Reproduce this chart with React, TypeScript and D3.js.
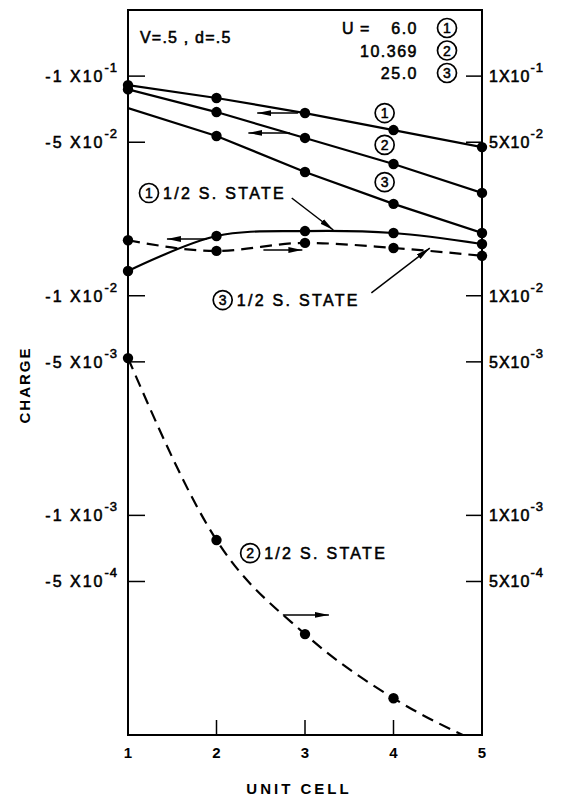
import React from "react";
import * as d3 from "d3";

// ---- data ----
const unitCells = [1, 2, 3, 4, 5];
const chargeU1 = [0.091, 0.0795, 0.0679, 0.0568, 0.0475]; // U = 6.0 (right axis)
const chargeU2 = [0.087, 0.0686, 0.0523, 0.0398, 0.0294]; // U = 10.369 (left axis)
const chargeU3 = [0.0716, 0.0534, 0.0366, 0.0262, 0.0193]; // U = 25.0 (left axis)
const markedU3 = [false, true, true, true, true];
const halfState1 = [0.01296, 0.0187, 0.0197, 0.0193, 0.0172];
const halfState3 = [0.0179, 0.016, 0.0174, 0.0165, 0.0152];
const halfState2 = [5.2e-3, 7.72e-4, 2.88e-4, 1.47e-4, 9.1e-5];

const leftTicks = [1e-1, 5e-2, 1e-2, 5e-3, 1e-3, 5e-4];
const leftMantissa = ["-1", "-5", "-1", "-5", "-1", "-5"];
const rightMantissa = ["1", "5", "1", "5", "1", "5"];
const tickExponent = ["-1", "-2", "-2", "-3", "-3", "-4"];
const xTicks = [1, 2, 3, 4, 5];
const legendU = ["6.0", "10.369", "25.0"];
const legendIds = ["1", "2", "3"];

const W = 561;
const H = 798;
const FONT = "'Liberation Sans', Arial, sans-serif";
const SW = 0.55;

export default function App() {
  const x = d3.scaleLinear().domain([1, 5]).range([128, 482]);
  const y = d3.scaleLog().domain([1e-4, 0.2]).range([735, 10]);
  const [x0, x1] = x.range();
  const [yB, yT] = y.range();

  const straight = d3
    .line<number>()
    .x((_, i) => x(unitCells[i]))
    .y((d) => y(d));
  const smooth = d3
    .line<number>()
    .x((_, i) => x(unitCells[i]))
    .y((d) => y(d))
    .curve(d3.curveMonotoneX);
  const catmull = d3
    .line<number>()
    .x((_, i) => x(unitCells[i]))
    .y((d) => y(d))
    .curve(d3.curveCatmullRom.alpha(0.5));

  const dots = (vals: number[], mask?: boolean[]) =>
    vals.map((v, i) =>
      (mask ? mask[i] : true) && v >= y.domain()[0] ? (
        <circle key={i} cx={x(unitCells[i])} cy={y(v)} r={5.2} fill="#000" />
      ) : null
    );

  const circled = (cx: number, cy: number, label: string, key?: string) => (
    <g key={key}>
      <circle cx={cx} cy={cy} r={9.5} fill="none" stroke="#000" strokeWidth={1.7} />
      <text
        x={cx}
        y={cy + 5}
        textAnchor="middle"
        fontSize={14}
        fontFamily={FONT}
        fill="#000"
        stroke="#000"
        strokeWidth={0.5}
      >
        {label}
      </text>
    </g>
  );

  const arrow = (ax1: number, ay1: number, ax2: number, ay2: number, key: string) => (
    <line
      key={key}
      x1={x(ax1)}
      y1={y(ay1)}
      x2={x(ax2)}
      y2={y(ay2)}
      stroke="#000"
      strokeWidth={1.5}
      markerEnd="url(#ah)"
    />
  );

  const stateLabel = (cxv: number, cyv: number, id: string, key: string) => {
    const cx = x(cxv);
    const cy = y(cyv);
    return (
      <g key={key}>
        {circled(cx, cy, id)}
        <text
          x={cx + 14}
          y={cy + 6}
          fontSize={16}
          letterSpacing={2.3}
          fontFamily={FONT}
          fill="#000"
          stroke="#000"
          strokeWidth={SW}
        >
          1/2 S. STATE
        </text>
      </g>
    );
  };

  return (
    <svg
      width={W}
      height={H}
      style={{ position: "absolute", left: 0, top: 0, background: "#fff" }}
      fontFamily={FONT}
    >
      <defs>
        <clipPath id="plot">
          <rect x={x0} y={yT} width={x1 - x0} height={yB - yT} />
        </clipPath>
        <marker
          id="ah"
          viewBox="0 0 12 5"
          refX={12}
          refY={2.5}
          markerWidth={14}
          markerHeight={6}
          markerUnits="userSpaceOnUse"
          orient="auto"
        >
          <path d="M0,0 L12,2.5 L0,5 Z" fill="#000" />
        </marker>
      </defs>
      <rect x={0} y={0} width={W} height={H} fill="#fff" />

      {/* frame */}
      <rect x={x0} y={yT} width={x1 - x0} height={yB - yT} fill="none" stroke="#000" strokeWidth={2} />

      {/* left ticks */}
      {leftTicks.map((t, i) => (
        <g key={"lt" + i}>
          <line x1={x0} x2={x0 + 17} y1={y(t)} y2={y(t)} stroke="#000" strokeWidth={1.5} />
          <text
            x={118}
            y={y(t) + 6}
            textAnchor="end"
            fontSize={16}
            letterSpacing={2}
            fill="#000"
            stroke="#000"
            strokeWidth={SW}
          >
            {leftMantissa[i] + " X10"}
            <tspan dy={-10} fontSize={13} letterSpacing={1}>
              {tickExponent[i]}
            </tspan>
          </text>
        </g>
      ))}

      {/* right ticks */}
      {leftTicks.map((t, i) => (
        <g key={"rt" + i}>
          <line x1={x1 - 16} x2={x1} y1={y(t)} y2={y(t)} stroke="#000" strokeWidth={1.5} />
          <text
            x={489}
            y={y(t) + 6}
            fontSize={16}
            letterSpacing={1}
            fill="#000"
            stroke="#000"
            strokeWidth={SW}
          >
            {rightMantissa[i] + "X10"}
            <tspan dy={-10} fontSize={13} letterSpacing={1}>
              {tickExponent[i]}
            </tspan>
          </text>
        </g>
      ))}

      {/* x ticks */}
      {xTicks.map((t) => (
        <g key={"xt" + t}>
          {t > 1 && t < 5 ? (
            <line x1={x(t)} x2={x(t)} y1={yB} y2={yB - 15} stroke="#000" strokeWidth={1.5} />
          ) : null}
          <text
            x={x(t)}
            y={758}
            textAnchor="middle"
            fontSize={15}
            fontWeight="bold"
            fill="#000"
          >
            {t}
          </text>
        </g>
      ))}

      {/* axis titles */}
      <text
        x={299}
        y={794}
        textAnchor="middle"
        fontSize={15}
        fontWeight="bold"
        letterSpacing={3}
        fill="#000"
      >
        UNIT CELL
      </text>
      <text
        transform="translate(30,385) rotate(-90)"
        textAnchor="middle"
        fontSize={15}
        fontWeight="bold"
        letterSpacing={2}
        fill="#000"
      >
        CHARGE
      </text>

      {/* parameters */}
      <text x={140} y={43} fontSize={16} letterSpacing={1.2} fill="#000" stroke="#000" strokeWidth={SW}>
        V=.5 , d=.5
      </text>

      {/* legend */}
      <text x={342} y={34} fontSize={16} letterSpacing={1} fill="#000" stroke="#000" strokeWidth={SW}>
        U =
      </text>
      {legendU.map((u, i) => (
        <g key={"lg" + i}>
          <text
            x={418}
            y={34 + i * 22.5}
            textAnchor="end"
            fontSize={16}
            letterSpacing={1.5}
            fill="#000"
            stroke="#000"
            strokeWidth={SW}
          >
            {u}
          </text>
          {circled(447, 28 + i * 22.5, legendIds[i])}
        </g>
      ))}

      {/* curves */}
      <g clipPath="url(#plot)" fill="none" stroke="#000">
        <path d={straight(chargeU1) || ""} strokeWidth={2.2} />
        <path d={straight(chargeU2) || ""} strokeWidth={2.2} />
        <path d={straight(chargeU3) || ""} strokeWidth={2.2} />
        <path d={catmull(halfState1) || ""} strokeWidth={2.2} />
        <path d={smooth(halfState3) || ""} strokeWidth={2.2} strokeDasharray="12 7" />
        <path d={smooth(halfState2) || ""} strokeWidth={2.2} strokeDasharray="12 7" />
      </g>

      {/* markers */}
      {dots(chargeU1)}
      {dots(chargeU2)}
      {dots(chargeU3, markedU3)}
      {dots(halfState1)}
      {dots(halfState3)}
      {dots(halfState2)}

      {/* series labels on lines */}
      {circled(x(3.9), y(0.0679), "1")}
      {circled(x(3.9), y(0.0486), "2")}
      {circled(x(3.9), y(0.0329), "3")}

      {/* axis-indicating arrows */}
      {arrow(2.92, 0.0679, 2.46, 0.0679, "a1")}
      {arrow(2.83, 0.0551, 2.36, 0.0551, "a2")}
      {arrow(1.89, 0.01813, 1.44, 0.01813, "a3")}
      {arrow(2.53, 0.01615, 2.97, 0.01615, "a4")}
      {arrow(2.75, 3.52e-4, 3.27, 3.52e-4, "a5")}

      {/* state labels with pointers */}
      {stateLabel(1.237, 0.02936, "1", "s1")}
      {arrow(2.85, 0.02787, 3.32, 0.01992, "p1")}
      {stateLabel(2.07, 0.00956, "3", "s3")}
      {arrow(3.75, 0.0103, 4.41, 0.01648, "p3")}
      {stateLabel(2.38, 6.73e-4, "2", "s2")}
    </svg>
  );
}
